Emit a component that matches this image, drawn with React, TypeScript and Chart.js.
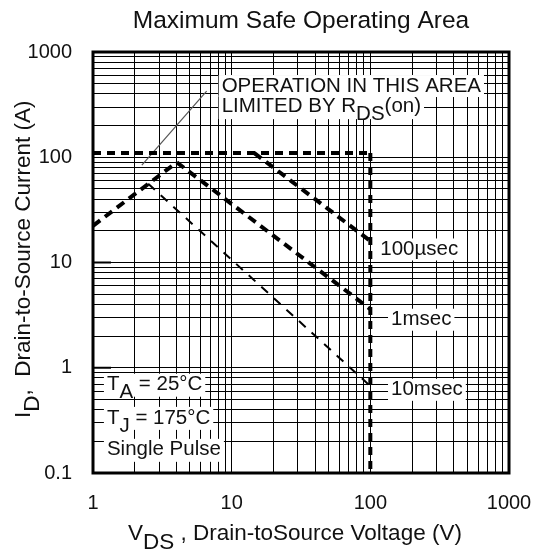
import React, { useEffect, useRef } from 'react';
import { Chart, registerables } from 'chart.js';

Chart.register(...registerables);

// ---- Data ----
const xTickValues = [1, 10, 100, 1000];
const xTickLabels = ['1', '10', '100', '1000'];
const yTickValues = [0.1, 1, 10, 100, 1000];
const yTickLabels = ['0.1', '1', '10', '100', '1000'];

// Current limit (horizontal) and voltage limit (vertical)
const limitV = [1, 100];
const limitI = [110, 110];
const vLimitV = [100, 100];
const vLimitI = [110, 0.1];
// R_DS(on) limited line
const rdsV = [1, 4.02];
const rdsI = [22.3, 89.5];
// Pulse curves
const us100V = [14.5, 100];
const us100I = [110, 16];
const ms1V = [4.02, 100];
const ms1I = [89.5, 3.6];
const ms10V = [2.5, 100];
const ms10I = [56, 0.67];
// Pointer line for the annotation
const pointerV = [2.25, 6.6];
const pointerI = [84, 424];

// Curve labels
const curveLabels = ['100µsec', '1msec', '10msec'];
const curveLabelV = [118, 141, 141];
const curveLabelI = [13.3, 2.86, 0.617];

// Condition labels
const condV = 1.26;
const condI = [0.69, 0.334, 0.166];

// Annotation anchor
const noteV = 8.47;
const noteI = [475, 306];

const FONT = '"Liberation Sans", Arial, Helvetica, sans-serif';
const TEXT = '#111111';

type Run = { t: string; dy: number };

const noteLines: Run[][] = [
  [{ t: 'OPERATION IN THIS AREA', dy: 0 }],
  [
    { t: 'LIMITED BY R', dy: 0 },
    { t: 'DS', dy: 8 },
    { t: '(on)', dy: 0 },
  ],
];
const condLines: Run[][] = [
  [
    { t: 'T', dy: 0 },
    { t: 'A', dy: 8 },
    { t: ' = 25°C', dy: 0 },
  ],
  [
    { t: 'T', dy: 0 },
    { t: 'J', dy: 8 },
    { t: ' = 175°C', dy: 0 },
  ],
  [{ t: 'Single Pulse', dy: 0 }],
];
const titleText = 'Maximum Safe Operating Area';
const xTitle: Run[] = [
  { t: 'V', dy: 0 },
  { t: 'DS', dy: 9 },
  { t: ' , Drain-toSource Voltage (V)', dy: 0 },
];
const yTitle: Run[] = [
  { t: 'I', dy: 0 },
  { t: 'D', dy: 9 },
  { t: ',  Drain-to-Source Current (A)', dy: 0 },
];

function pts(xs: number[], ys: number[]) {
  return xs.map((x, i) => ({ x, y: ys[i] }));
}

function logGrid(min: number, max: number) {
  const out: number[] = [];
  for (let d = min; d < max * 0.999; d *= 10) {
    for (let k = 1; k < 10; k++) out.push(+(k * d).toPrecision(3));
  }
  out.push(max);
  return out;
}

function labelFor(v: number, vals: number[], labels: string[]) {
  for (let i = 0; i < vals.length; i++) {
    if (Math.abs(v - vals[i]) / vals[i] < 1e-6) return labels[i];
  }
  return '';
}

function measureRuns(ctx: CanvasRenderingContext2D, runs: Run[]) {
  let w = 0;
  for (const r of runs) w += ctx.measureText(r.t).width;
  return w;
}

function drawRuns(ctx: CanvasRenderingContext2D, runs: Run[], x: number, y: number) {
  let cx = x;
  for (const r of runs) {
    ctx.fillText(r.t, cx, y + r.dy);
    cx += ctx.measureText(r.t).width;
  }
}

const overlay = {
  id: 'overlay',
  afterDatasetsDraw(chart: any) {
    const { ctx, chartArea: a, scales } = chart;
    const xs = scales.x;
    const ys = scales.y;
    ctx.save();
    ctx.font = `20.5px ${FONT}`;
    ctx.textBaseline = 'middle';
    ctx.textAlign = 'left';

    // Annotation block
    const nx = xs.getPixelForValue(noteV);
    const ny0 = ys.getPixelForValue(noteI[0]);
    const ny1 = ys.getPixelForValue(noteI[1]);
    const w0 = measureRuns(ctx, noteLines[0]);
    const w1 = measureRuns(ctx, noteLines[1]);
    ctx.fillStyle = '#ffffff';
    ctx.fillRect(nx - 3, ny0 - 11, w0 + 6, 22);
    ctx.fillRect(nx - 3, ny1 - 11, w1 + 6, 24);
    ctx.fillStyle = TEXT;
    drawRuns(ctx, noteLines[0], nx, ny0);
    drawRuns(ctx, noteLines[1], nx, ny1);

    // Curve labels
    curveLabels.forEach((t, i) => {
      const px = xs.getPixelForValue(curveLabelV[i]);
      const py = ys.getPixelForValue(curveLabelI[i]);
      const w = ctx.measureText(t).width;
      ctx.fillStyle = '#ffffff';
      ctx.fillRect(px - 3, py - 11, w + 6, 22);
      ctx.fillStyle = TEXT;
      ctx.fillText(t, px, py);
    });

    // Conditions
    const cx = xs.getPixelForValue(condV);
    condLines.forEach((runs, i) => {
      const py = ys.getPixelForValue(condI[i]);
      const w = measureRuns(ctx, runs);
      ctx.fillStyle = '#ffffff';
      ctx.fillRect(cx - 3, py - 11, w + 6, 23);
      ctx.fillStyle = TEXT;
      drawRuns(ctx, runs, cx, py);
    });

    // Major tick stubs on the left inside
    ctx.strokeStyle = '#000';
    ctx.lineWidth = 2;
    [1, 10].forEach((v) => {
      const py = ys.getPixelForValue(v);
      ctx.beginPath();
      ctx.moveTo(a.left, py);
      ctx.lineTo(a.left + 18, py);
      ctx.stroke();
    });

    // Frame
    ctx.lineWidth = 3;
    ctx.strokeStyle = '#000';
    ctx.strokeRect(a.left, a.top, a.right - a.left, a.bottom - a.top);
    ctx.restore();
  },
  afterDraw(chart: any) {
    const { ctx, chartArea: a } = chart;
    ctx.save();
    ctx.fillStyle = TEXT;
    // Title
    ctx.font = `24.5px ${FONT}`;
    ctx.textAlign = 'center';
    ctx.textBaseline = 'middle';
    ctx.fillText(titleText, (a.left + a.right) / 2, 21);

    // X title
    ctx.font = `22.5px ${FONT}`;
    ctx.textAlign = 'left';
    ctx.textBaseline = 'middle';
    drawRuns(ctx, xTitle, 128, 534);

    // Y title (rotated)
    ctx.translate(24, 418);
    ctx.rotate(-Math.PI / 2);
    drawRuns(ctx, yTitle, 0, 0);
    ctx.restore();
  },
};

export default function App() {
  const ref = useRef<HTMLCanvasElement | null>(null);
  useEffect(() => {
    if (!ref.current) return;
    const thick = { borderColor: '#000', borderWidth: 4, borderDash: [9, 6], pointRadius: 0, showLine: true, fill: false, borderCapStyle: 'butt' as const };
    const chart = new Chart(ref.current, {
      type: 'scatter',
      data: {
        datasets: [
          { ...thick, data: pts(limitV, limitI), borderDash: [8, 6] },
          { ...thick, data: pts(vLimitV, vLimitI), borderDash: [8, 6] },
          { ...thick, data: pts(rdsV, rdsI) },
          { ...thick, data: pts(us100V, us100I) },
          { ...thick, data: pts(ms1V, ms1I) },
          { ...thick, data: pts(ms10V, ms10I), borderWidth: 2, borderDash: [9, 8] },
          { data: pts(pointerV, pointerI), borderColor: '#555', borderWidth: 1.2, pointRadius: 0, showLine: true, fill: false },
        ],
      },
      options: {
        animation: false,
        responsive: false,
        events: [],
        layout: { padding: { left: 0, top: 52, right: 24, bottom: 0 } },
        plugins: { legend: { display: false }, tooltip: { enabled: false }, title: { display: false } },
        scales: {
          x: {
            type: 'logarithmic',
            min: 1,
            max: 1000,
            afterBuildTicks: (s: any) => {
              s.ticks = logGrid(1, 1000).map((v) => ({ value: v }));
            },
            afterFit: (s: any) => {
              s.height = 79;
              s.paddingLeft = 0;
              s.paddingRight = 0;
            },
            grid: { color: '#000', lineWidth: 1, drawTicks: false },
            border: { display: false },
            ticks: {
              autoSkip: false,
              maxRotation: 0,
              padding: 18,
              color: TEXT,
              font: { family: FONT, size: 20 },
              callback: (v: any) => labelFor(Number(v), xTickValues, xTickLabels),
            },
          },
          y: {
            type: 'logarithmic',
            min: 0.1,
            max: 1000,
            afterBuildTicks: (s: any) => {
              s.ticks = logGrid(0.1, 1000).map((v) => ({ value: v }));
            },
            afterFit: (s: any) => {
              s.width = 93;
              s.paddingTop = 0;
              s.paddingBottom = 0;
            },
            grid: { color: '#000', lineWidth: 1, drawTicks: false },
            border: { display: false },
            ticks: {
              autoSkip: false,
              padding: 21,
              color: TEXT,
              font: { family: FONT, size: 20 },
              callback: (v: any) => labelFor(Number(v), yTickValues, yTickLabels),
            },
          },
        },
      },
      plugins: [overlay],
    } as any);
    return () => chart.destroy();
  }, []);
  return (
    <div style={{ position: 'fixed', left: 0, top: 0, width: 533, height: 552, background: '#fff' }}>
      <canvas ref={ref} width={533} height={552} style={{ display: 'block' }} />
    </div>
  );
}
